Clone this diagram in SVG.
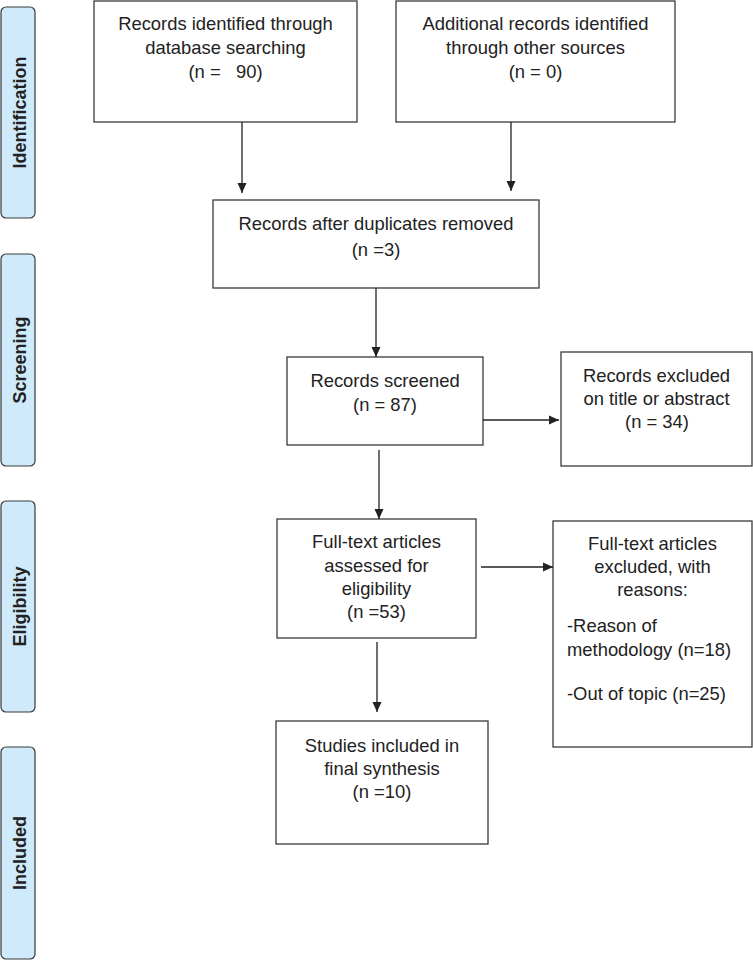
<svg xmlns="http://www.w3.org/2000/svg" width="753" height="960" viewBox="0 0 753 960">
<style>
.box{fill:#fff;stroke:#3a3a3a;stroke-width:1.3}
.bar{fill:#cfeafa;stroke:#3a3a3a;stroke-width:1.2}
.t{font-family:"Liberation Sans",Arial,sans-serif;font-size:18.4px;fill:#222;text-anchor:middle}
.tl{font-family:"Liberation Sans",Arial,sans-serif;font-size:18.4px;fill:#222}
.bt{font-family:"Liberation Sans",Arial,sans-serif;font-size:18px;font-weight:bold;fill:#222;text-anchor:middle}
.c{stroke:#222;stroke-width:1.3;fill:none;marker-end:url(#ah)}
</style>
<defs>
<marker id="ah" markerWidth="10" markerHeight="10" refX="10" refY="5" orient="auto" markerUnits="userSpaceOnUse">
<path d="M0,0.5 L10,5 L0,9.5 Z" fill="#222"/>
</marker>
</defs>
<rect width="753" height="960" fill="#fff"/>
<g id="bar-identification"><rect class="bar" x="1" y="7" width="34" height="211" rx="5"/><text class="bt" transform="translate(26,112.5) rotate(-90)">Identification</text></g>
<g id="bar-screening"><rect class="bar" x="1" y="254" width="34" height="212" rx="5"/><text class="bt" transform="translate(26,360) rotate(-90)">Screening</text></g>
<g id="bar-eligibility"><rect class="bar" x="1" y="501" width="34" height="211" rx="5"/><text class="bt" transform="translate(26,606.5) rotate(-90)">Eligibility</text></g>
<g id="bar-included"><rect class="bar" x="1" y="747" width="34" height="212" rx="5"/><text class="bt" transform="translate(26,853) rotate(-90)">Included</text></g>
<g id="n-db"><rect class="box" x="94" y="1" width="263" height="121"/><text class="t" x="225.5" y="30">Records identified through</text><text class="t" x="225.5" y="54">database searching</text><text class="t" x="225.5" y="78" xml:space="preserve">(n =   90)</text></g>
<g id="n-other"><rect class="box" x="396" y="1" width="279" height="121"/><text class="t" x="535.5" y="30">Additional records identified</text><text class="t" x="535.5" y="54">through other sources</text><text class="t" x="535.5" y="78">(n = 0)</text></g>
<g id="n-dup"><rect class="box" x="213" y="200" width="326" height="88"/><text class="t" x="376" y="230">Records after duplicates removed</text><text class="t" x="376" y="256">(n =3)</text></g>
<g id="n-screened"><rect class="box" x="287" y="357" width="196" height="88"/><text class="t" x="385" y="387">Records screened</text><text class="t" x="385" y="411">(n = 87)</text></g>
<g id="n-excl"><rect class="box" x="561" y="352" width="191" height="114"/><text class="t" x="656.5" y="382">Records excluded</text><text class="t" x="656.5" y="405">on title or abstract</text><text class="t" x="657" y="428">(n = 34)</text></g>
<g id="n-fulltext"><rect class="box" x="277" y="519" width="199" height="119"/><text class="t" x="376.5" y="548">Full-text articles</text><text class="t" x="376.5" y="572">assessed for</text><text class="t" x="376.5" y="595">eligibility</text><text class="t" x="376.5" y="618">(n =53)</text></g>
<g id="n-ftexcl"><rect class="box" x="553" y="521" width="199" height="226"/><text class="t" x="652.5" y="550">Full-text articles</text><text class="t" x="652.5" y="573">excluded, with</text><text class="t" x="652.5" y="596">reasons:</text><text class="tl" x="567" y="632">-Reason of</text><text class="tl" x="567" y="656">methodology (n=18)</text><text class="tl" x="567" y="700">-Out of topic (n=25)</text></g>
<g id="n-included"><rect class="box" x="276" y="721" width="212" height="123"/><text class="t" x="382" y="752">Studies included in</text><text class="t" x="382" y="775">final synthesis</text><text class="t" x="382" y="798">(n =10)</text></g>
<g id="connectors">
<line class="c" x1="242" y1="122" x2="242" y2="193"/>
<line class="c" x1="511" y1="122" x2="511" y2="191"/>
<line class="c" x1="376" y1="288" x2="376" y2="357"/>
<line class="c" x1="483" y1="420" x2="559" y2="420"/>
<line class="c" x1="379" y1="450" x2="379" y2="519"/>
<line class="c" x1="481" y1="567" x2="553" y2="567"/>
<line class="c" x1="377" y1="642" x2="377" y2="712"/>
</g>
</svg>
